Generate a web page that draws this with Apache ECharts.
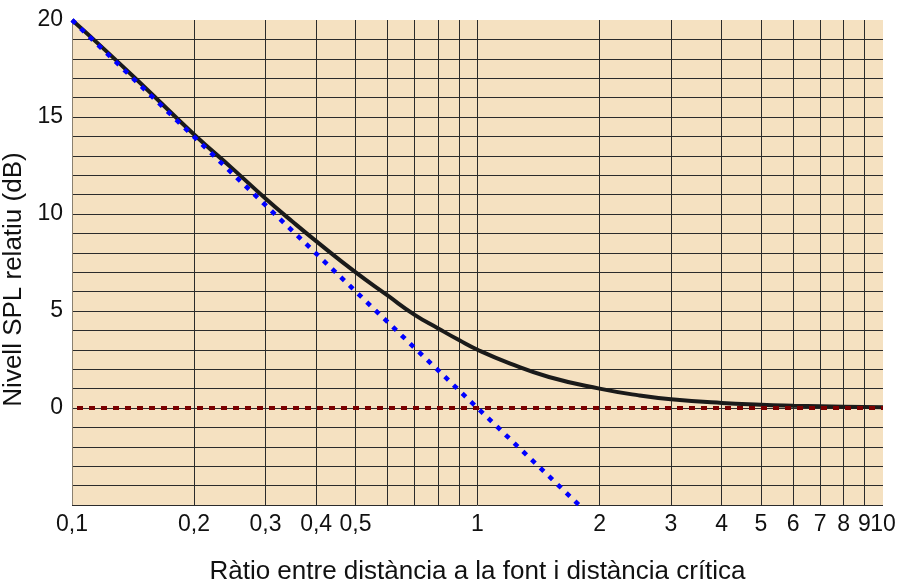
<!DOCTYPE html>
<html>
<head>
<meta charset="utf-8">
<script src="https://cdn.jsdelivr.net/npm/echarts@6/dist/echarts.min.js"></script>
<style>
  html, body { margin: 0; padding: 0; background: #ffffff; }
  #chart { width: 901px; height: 585px; }
</style>
</head>
<body>
<div id="chart"></div>
<script>
// Distance ratio r = d / critical distance (log axis)
const ratio = [0.1, 0.12, 0.15, 0.2, 0.25, 0.3, 0.35, 0.4, 0.5, 0.6, 0.7, 0.8, 0.9, 1,
               1.2, 1.5, 2, 2.5, 3, 4, 5, 6, 7, 8, 10];
// Total relative SPL (direct + reverberant field), dB
const totalLevel = [20.0, 18.5, 16.6, 14.1, 12.3, 10.8, 9.6, 8.6, 7.0, 5.8, 4.8, 4.1, 3.5, 3.0,
                    2.3, 1.6, 1.0, 0.65, 0.45, 0.26, 0.17, 0.12, 0.09, 0.07, 0.04];
// Direct field only (falls 6 dB per doubling of distance)
const directRatio = [0.1, 1, 1.78];
const directLevel = [20, 0, -5];
// Reverberant field level
const reverbRatio = [0.1, 10];
const reverbLevel = [0, 0];

// Axis ticks and labels
const xGridValues = [0.1, 0.2, 0.3, 0.4, 0.5, 0.6, 0.7, 0.8, 0.9, 1, 2, 3, 4, 5, 6, 7, 8, 9, 10];
const xLabelValues = [0.1, 0.2, 0.3, 0.4, 0.5, 1, 2, 3, 4, 5, 6, 7, 8, 9];
const xEndLabelValues = [10];
const yLabelValues = [0, 5, 10, 15, 20];

const pair = (xs, ys) => xs.map((x, i) => [x, ys[i]]);

const FONT = 'Liberation Sans, Arial, sans-serif';
const GRID = '#2b2b2b';

// colours per split line: first (left edge) greyish, last (right/top edge) hidden
const xLineColors = xGridValues.map((v, i) =>
  i === 0 ? '#8a8070' : (i === xGridValues.length - 1 ? 'rgba(0,0,0,0)' : GRID));
const yCount = 26;
const yLineColors = Array.from({ length: yCount }, (_, i) =>
  i === yCount - 1 ? 'rgba(0,0,0,0)' : GRID);

const tickLabelStyle = { fontFamily: FONT, fontSize: 23, color: '#111' };
const xLabelFormatter = v => String(Math.round(v * 10) / 10).replace('.', ',');

const chart = echarts.init(document.getElementById('chart'), null, { renderer: 'canvas' });
chart.setOption({
  animation: false,
  backgroundColor: '#ffffff',
  grid: {
    left: 72, right: 18, top: 20, bottom: 80,
    outerBoundsMode: 'none',
    containLabel: false,
    show: true, backgroundColor: '#f5e1c1', borderWidth: 0
  },
  xAxis: [
    {
      type: 'log',
      logBase: 10,
      min: 0.1,
      max: 10,
      position: 'bottom',
      name: 'Ràtio entre distància a la font i distància crítica',
      nameLocation: 'middle',
      nameGap: 54,
      nameTextStyle: { fontFamily: FONT, fontSize: 26, color: '#111' },
      axisLine: { show: false },
      axisTick: { show: false, customValues: xGridValues },
      axisLabel: Object.assign({
        customValues: xLabelValues,
        hideOverlap: false,
        margin: 8,
        formatter: xLabelFormatter
      }, tickLabelStyle),
      splitLine: { show: true, lineStyle: { color: xLineColors, width: 1 } }
    },
    {
      // end label of the decade axis, kept on its own so it sits tight against "9"
      type: 'log',
      logBase: 10,
      min: 0.1,
      max: 10,
      position: 'bottom',
      axisLine: { show: false },
      axisTick: { show: false },
      splitLine: { show: false },
      axisLabel: Object.assign({
        customValues: xEndLabelValues,
        hideOverlap: false,
        showMaxLabel: true,
        margin: 8,
        formatter: xLabelFormatter
      }, tickLabelStyle)
    }
  ],
  yAxis: {
    type: 'value',
    min: -5,
    max: 20,
    interval: 1,
    name: 'Nivell SPL relatiu (dB)',
    nameLocation: 'middle',
    nameGap: 33,
    nameTextStyle: { fontFamily: FONT, fontSize: 26, color: '#111', padding: [0, 34, 0, 0] },
    axisLine: { show: false },
    axisTick: { show: false },
    axisLabel: Object.assign({
      margin: 9,
      formatter: v => (yLabelValues.indexOf(v) >= 0 ? String(v) : '')
    }, tickLabelStyle),
    splitLine: { show: true, lineStyle: { color: yLineColors, width: 1 } }
  },
  series: [
    {
      name: 'total',
      type: 'line',
      xAxisIndex: 0,
      data: pair(ratio, totalLevel),
      smooth: true,
      showSymbol: false,
      z: 3,
      lineStyle: { color: '#1a1a1a', width: 4 }
    },
    {
      name: 'reverberant',
      type: 'line',
      xAxisIndex: 0,
      data: pair(reverbRatio, reverbLevel),
      showSymbol: false,
      z: 4,
      lineStyle: { color: '#7a0000', width: 4, type: [6, 6], dashOffset: 7, cap: 'butt' }
    },
    {
      name: 'direct',
      type: 'line',
      xAxisIndex: 0,
      data: pair(directRatio, directLevel),
      showSymbol: false,
      z: 5,
      lineStyle: { color: '#0000ff', width: 4.5, type: [5, 7], cap: 'butt' }
    }
  ]
});
</script>
</body>
</html>
